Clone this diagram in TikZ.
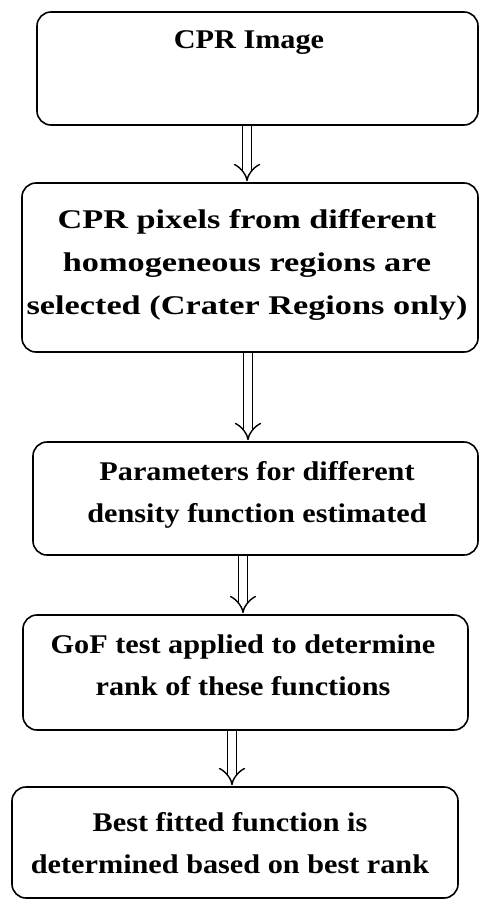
\documentclass[tikz,border=0pt]{standalone}
\usepackage{fontspec}
\setmainfont{Liberation Serif}[FakeStretch=1.12]
\newfontfamily\widefont{Liberation Serif}[FakeStretch=1.27]
\usetikzlibrary{arrows.meta}
\begin{document}
\begin{tikzpicture}[x=1pt,y=-1pt,
  box/.style={draw, line width=1.6pt, rounded corners=14pt, inner sep=0pt},
  txt/.style={align=center, font=\fontsize{27}{42}\selectfont\bfseries, inner sep=0pt},
  dbl/.style={double, double distance=8pt, line width=1.4pt,
    -{Implies[length=10pt, width=17pt]}, shorten >=1pt}]
\useasboundingbox (0,0) rectangle (486,900);
\node[box, minimum width=441pt, minimum height=113pt] (box1) at (257.5,68.5) {};
\node[txt] (t1) at (249,43) {CPR Image};
\node[box, minimum width=456pt, minimum height=169pt] (box2) at (250,267.5) {};
\node[txt, font=\fontsize{27}{43}\selectfont\widefont\bfseries] (t2) at (247,265) {CPR pixels from different\\homogeneous regions are\\selected (Crater Regions only)};
\node[box, minimum width=445pt, minimum height=113pt] (box3) at (255.5,498.5) {};
\node[txt] (t3) at (257,495) {Parameters for different\\density function estimated};
\node[box, minimum width=445pt, minimum height=115pt] (box4) at (245.5,672.5) {};
\node[txt] (t4) at (243,665) {GoF test applied to determine\\rank of these functions};
\node[box, minimum width=446pt, minimum height=111pt] (box5) at (235,842.5) {};
\node[txt] (t5) at (230,843) {Best fitted function is\\determined based on best rank};
\draw[dbl] (box1.south -| 247,0) -- (box2.north -| 247,0);
\draw[dbl] (box2.south -| 248,0) -- (box3.north -| 248,0);
\draw[dbl] (box3.south -| 243,0) -- (box4.north -| 243,0);
\draw[dbl] (box4.south -| 232,0) -- (box5.north -| 232,0);
\end{tikzpicture}
\end{document}
